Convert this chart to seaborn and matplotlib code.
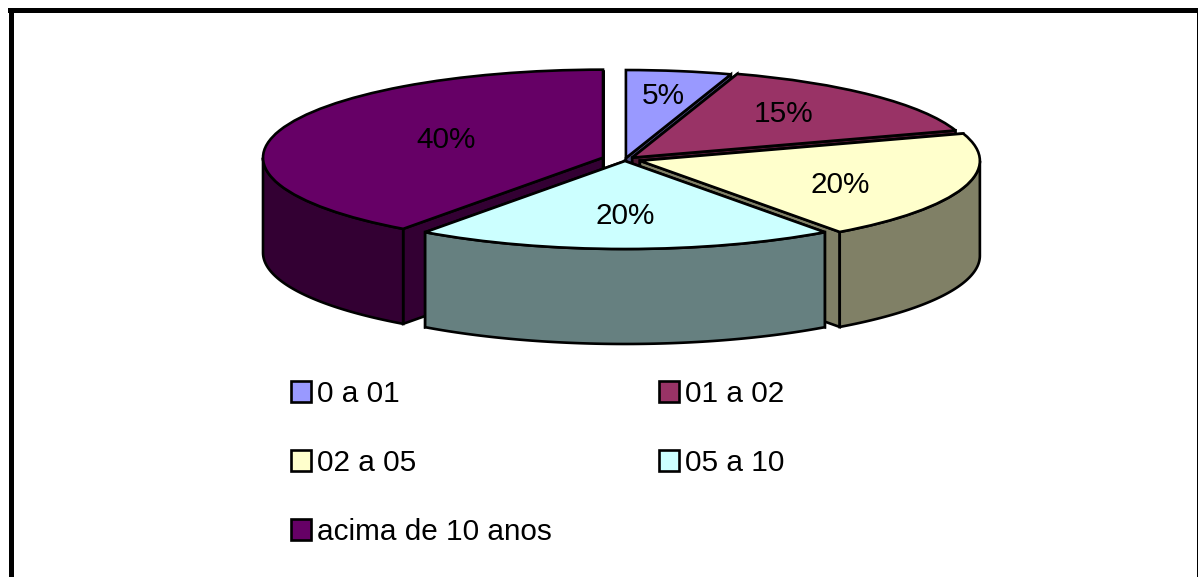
import numpy as np
import matplotlib
matplotlib.use("Agg")
import matplotlib.pyplot as plt
import seaborn as sns

categories = ["0 a 01", "01 a 02", "02 a 05", "05 a 10", "acima de 10 anos"]
shares = [5, 15, 20, 20, 40]
colors = ["#9999FF", "#993366", "#FFFFCC", "#CCFFFF", "#660066"]
explode = [0.017, 0.030, 0.046, 0.017, 0.068]
label_radii_x = [0.71, 0.63, 0.62, 0.58, 0.485]
label_radii_y = [0.717, 0.698, 0.883, 0.62, 0.662]
paint_order = [0, 1, 4, 2, 3]
legend_order = [0, 2, 4, 1, 3]

W, H = 1198, 577
CX, CY, RX, RY, DEPTH = 625.0, 159.5, 340.0, 88.0, 95.0
AX_L, AX_R, AX_T, AX_B = 10.5, 1198.5, 9.5, 578.5
LW = 1.9
FS = 21.4

sns.set_theme(style="white")
plt.rcParams["font.family"] = ["Liberation Sans", "DejaVu Sans"]
palette = sns.color_palette(colors)

fig = plt.figure(figsize=(W / 100, H / 100), dpi=100, facecolor="white")
ax = fig.add_axes([AX_L / W, 1 - AX_B / H, (AX_R - AX_L) / W, (AX_B - AX_T) / H])

wedges, _, autotexts = ax.pie(
    shares, colors=palette, explode=explode, startangle=90, counterclock=False,
    autopct="%.0f%%", radius=1, frame=True,
    wedgeprops=dict(edgecolor="black", linewidth=LW, joinstyle="miter"),
    textprops=dict(fontsize=FS, color="black"),
)
ax.set_aspect("auto")
ax.set_xlim((AX_L - CX) / RX, (AX_R - CX) / RX)
ax.set_ylim((CY - AX_B) / RY, (CY - AX_T) / RY)
ax.set_xticks([])
ax.set_yticks([])
for s in ax.spines.values():
    s.set_linewidth(3.6)
    s.set_color("black")
    s.set_zorder(100)

depth = DEPTH / RY
edges = np.concatenate([[0], np.cumsum(shares)]) / np.sum(shares) * 2 * np.pi


def side(px, py, color, z):
    xs = np.concatenate([px, px[::-1]])
    ys = np.concatenate([py, py[::-1] - depth])
    ax.fill(xs, ys, facecolor=color, edgecolor="black", linewidth=LW,
            joinstyle="miter", zorder=z)


for rank, i in enumerate(paint_order):
    a0, a1 = edges[i], edges[i + 1]
    mid = (a0 + a1) / 2
    ox, oy = explode[i] * np.sin(mid), explode[i] * np.cos(mid)
    shade = tuple(c / 2 for c in palette[i])
    z = 2 + 2 * rank
    for a in (a0, a1):
        side(np.array([ox, ox + np.sin(a)]), np.array([oy, oy + np.cos(a)]), shade, z)
    lo, hi = max(a0, np.pi / 2), min(a1, 3 * np.pi / 2)
    if hi > lo:
        t = np.linspace(lo, hi, 80)
        side(ox + np.sin(t), oy + np.cos(t), shade, z)
    wedges[i].set_zorder(z + 1)
    autotexts[i].set_position((ox + label_radii_x[i] * np.sin(mid),
                               oy + label_radii_y[i] * np.cos(mid)))
    autotexts[i].set_zorder(50)

leg = fig.legend(
    [wedges[i] for i in legend_order], [categories[i] for i in legend_order],
    ncol=2, loc="upper left", bbox_to_anchor=(291 / W, 1 - 380 / H),
    bbox_transform=fig.transFigure, frameon=False, fontsize=FS,
    borderpad=0, borderaxespad=0, handlelength=0.68, handleheight=0.68,
    handletextpad=0.2, columnspacing=3.6, labelspacing=1.38,
)
for text in leg.get_texts():
    text.set_color("black")
fig.savefig("out.png", dpi=100)
